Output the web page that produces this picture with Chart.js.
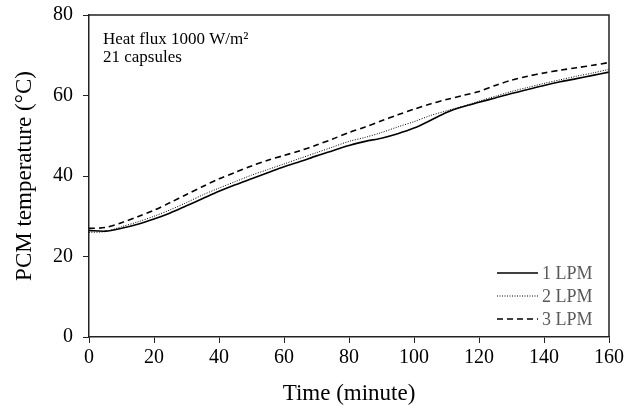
<!DOCTYPE html>
<html>
<head>
<meta charset="utf-8">
<script src="https://cdn.jsdelivr.net/npm/chart.js@4/dist/chart.umd.min.js"></script>
<style>
  body { margin: 0; background: #fff; }
</style>
</head>
<body>
<canvas id="myChart" width="624" height="408"></canvas>
<script>
const minutes = [0, 5, 10, 15, 20, 25, 30, 35, 40, 45, 50, 55, 60, 65, 70, 75, 80,
                 85, 90, 95, 100, 105, 110, 115, 120, 125, 130, 135, 140, 145, 150, 155, 160];
const lpm1 = [26.5, 26.3, 27.0, 28.0, 29.3, 30.8, 32.6, 34.4, 36.2, 37.8, 39.3, 40.8, 42.3, 43.6, 45.0, 46.3, 47.6,
              48.6, 49.4, 50.5, 51.9, 53.8, 55.8, 57.2, 58.3, 59.4, 60.5, 61.5, 62.5, 63.4, 64.2, 65.0, 65.8];
const lpm2 = [26.0, 26.2, 27.4, 28.6, 30.0, 31.6, 33.4, 35.3, 37.0, 38.6, 40.2, 41.6, 43.0, 44.4, 45.8, 47.2, 48.6,
              49.6, 50.8, 52.2, 53.5, 55.0, 56.2, 57.3, 58.6, 59.8, 61.0, 62.0, 63.0, 63.9, 64.8, 65.6, 66.5];
const lpm3 = [27.0, 27.2, 28.4, 29.9, 31.5, 33.4, 35.4, 37.4, 39.3, 40.9, 42.5, 43.9, 45.1, 46.3, 47.7, 49.2, 50.8,
              52.2, 53.7, 55.2, 56.6, 57.9, 59.0, 60.0, 61.0, 62.5, 63.8, 64.8, 65.6, 66.3, 66.9, 67.5, 68.2];
const yTicks = [0, 20, 40, 60, 80];
const xTicks = [0, 20, 40, 60, 80, 100, 120, 140, 160];
const noteLines = ['Heat flux 1000 W/m\u00b2', '21 capsules'];

const serif = '"Liberation Serif", "Times New Roman", serif';

function toXY(ys) {
    return minutes.map((t, i) => ({ x: t, y: ys[i] }));
}

// frame, note text and legend inside the plot
const extras = {
    id: 'extras',
    afterDatasetsDraw(chart) {
        const ctx = chart.ctx;
        const a = chart.chartArea;
        ctx.save();
        ctx.strokeStyle = '#222';
        ctx.lineWidth = 1.5;
        ctx.beginPath();
        ctx.moveTo(a.left, a.top);
        ctx.lineTo(a.right, a.top);
        ctx.lineTo(a.right, a.bottom);
        ctx.stroke();

        ctx.fillStyle = '#000';
        ctx.font = '17px ' + serif;
        ctx.textBaseline = 'middle';
        noteLines.forEach((s, i) => ctx.fillText(s, a.left + 14, a.top + 25 + i * 18));

        ctx.font = '18px ' + serif;
        chart.data.datasets.forEach((ds, i) => {
            const y = a.bottom - 64 + i * 23;
            ctx.strokeStyle = '#000';
            ctx.lineWidth = ds.borderWidth;
            ctx.setLineDash(ds.borderDash || []);
            ctx.beginPath();
            ctx.moveTo(a.right - 112, y);
            ctx.lineTo(a.right - 71, y);
            ctx.stroke();
            ctx.setLineDash([]);
            ctx.fillStyle = '#595959';
            ctx.fillText(ds.label, a.right - 67, y + 1);
        });
        ctx.restore();
    }
};

const config = {
    type: 'line',
    data: {
        datasets: [
            { label: '1 LPM', data: toXY(lpm1), borderColor: '#000', borderWidth: 1.6, borderDash: [] },
            { label: '2 LPM', data: toXY(lpm2), borderColor: '#000', borderWidth: 1, borderDash: [1, 1.5] },
            { label: '3 LPM', data: toXY(lpm3), borderColor: '#000', borderWidth: 1.6, borderDash: [6, 4] }
        ]
    },
    options: {
        responsive: false,
        animation: false,
        elements: { point: { radius: 0 }, line: { tension: 0.3 } },
        layout: { padding: { top: 15, right: 15, left: 0, bottom: 0 } },
        plugins: { legend: { display: false }, tooltip: { enabled: false } },
        scales: {
            x: {
                type: 'linear',
                min: 0, max: 160,
                afterBuildTicks: s => { s.ticks = xTicks.map(v => ({ value: v })); },
                afterFit: s => { s.height = 71; s.paddingLeft = 0; s.paddingRight = 0; },
                border: { color: '#222', width: 1.5 },
                grid: { drawOnChartArea: false, tickLength: 6, color: '#222' },
                ticks: { color: '#000', font: { family: serif, size: 20 }, maxRotation: 0, padding: 3 },
                title: { display: true, text: 'Time (minute)', color: '#000', font: { family: serif, size: 23 }, padding: { top: 0, bottom: 0 } }
            },
            y: {
                min: 0, max: 80,
                afterBuildTicks: s => { s.ticks = yTicks.map(v => ({ value: v })); },
                afterFit: s => { s.width = 89; s.paddingTop = 0; s.paddingBottom = 0; },
                border: { color: '#222', width: 1.5 },
                grid: { drawOnChartArea: false, tickLength: 6, color: '#222' },
                ticks: { color: '#000', font: { family: serif, size: 20 }, padding: 10 },
                title: { display: true, text: 'PCM temperature (\u00b0C)', color: '#000', font: { family: serif, size: 23 }, padding: { top: 11, bottom: 0 } }
            }
        }
    },
    plugins: [extras]
};

const myChart = new Chart(document.getElementById('myChart'), config);
</script>
</body>
</html>
